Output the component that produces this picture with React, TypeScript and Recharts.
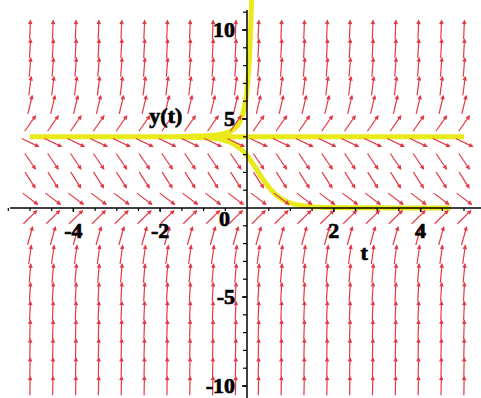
import React from "react";
import {
  ComposedChart,
  XAxis,
  YAxis,
  Line,
  Scatter,
  ReferenceLine,
  ReferenceDot,
} from "recharts";

// direction field grid (20 x 20)
const tColumns = [
  -5, -4.474, -3.947, -3.421, -2.895, -2.368, -1.842, -1.316, -0.789, -0.263,
  0.263, 0.789, 1.316, 1.842, 2.368, 2.895, 3.421, 3.947, 4.474, 5,
];
const yRows = [
  -10, -8.947, -7.895, -6.842, -5.789, -4.737, -3.684, -2.632, -1.579, -0.526,
  0.526, 1.579, 2.632, 3.684, 4.737, 5.789, 6.842, 7.895, 8.947, 10,
];
// dy/dt along each row, y(y-4)
const rowSlopes = [
  140, 115.8, 93.9, 74.2, 56.7, 41.4, 28.3, 17.5, 8.8, 2.38,
  -1.83, -3.82, -3.6, -1.16, 3.49, 10.36, 19.45, 30.75, 44.26, 60,
];

// solution curves
const equilibriumCurve = [
  { t: -5, y: 4 },
  { t: 5, y: 4 },
];
const upperCurve = [
  { t: -1.5, y: 4.02 },
  { t: -0.8, y: 4.08 },
  { t: -0.5, y: 4.2 },
  { t: -0.32, y: 4.4 },
  { t: -0.2, y: 4.7 },
  { t: -0.12, y: 5.1 },
  { t: -0.05, y: 5.8 },
  { t: 0, y: 6.6 },
  { t: 0.04, y: 7.8 },
  { t: 0.07, y: 9.2 },
  { t: 0.09, y: 10.5 },
  { t: 0.11, y: 11.8 },
];
const lowerCurve = [
  { t: -1.5, y: 3.99 },
  { t: -1, y: 3.95 },
  { t: -0.6, y: 3.85 },
  { t: -0.3, y: 3.6 },
  { t: 0, y: 2.95 },
  { t: 0.2, y: 2.25 },
  { t: 0.4, y: 1.5 },
  { t: 0.6, y: 0.9 },
  { t: 0.8, y: 0.5 },
  { t: 1, y: 0.28 },
  { t: 1.3, y: 0.12 },
  { t: 1.7, y: 0.04 },
  { t: 2.5, y: 0.01 },
  { t: 4.7, y: 0 },
];

const xTickLabels = ["-4", "-2", "2", "4"];
const xTickValues = [-4, -2, 2, 4];
const yTickLabels = ["10", "5", "-5", "-10"];
const yTickValues = [10, 5, -5, -10];
const xMinorTicks = [
  -5.5, -5, -4.5, -4, -3.5, -3, -2.5, -2, -1.5, -1, -0.5, 0.5, 1, 1.5, 2, 2.5,
  3, 3.5, 4, 4.5, 5,
];
const yMinorTicks = [
  -10, -9, -8, -7, -6, -5, -4, -3, -2, -1, 1, 2, 3, 4, 5, 6, 7, 8, 9, 10, 11,
];

const fieldData = tColumns.flatMap((t) =>
  yRows.map((y, j) => ({ t, y, slope: rowSlopes[j] }))
);
const xTickData = xTickValues.map((t, i) => ({ t, y: 0, label: xTickLabels[i] }));
const yTickData = yTickValues.map((y, i) => ({ t: 0, y, label: yTickLabels[i] }));
const xMinorData = xMinorTicks.map((t) => ({ t, y: 0 }));
const yMinorData = yMinorTicks.map((y) => ({ t: 0, y }));

const W = 481;
const H = 398;
const PX_T = 43.4;
const PX_Y = 17.8;
const X0 = 247;
const Y0 = 208;
const xDomain = [-X0 / PX_T, (W - X0) / PX_T];
const yDomain = [(Y0 - H) / PX_Y, Y0 / PX_Y];

const RED = "#e43a44";
const YELLOW = "#eaea1a";
const FONT = "'Liberation Serif', 'DejaVu Serif', serif";

const labelStyle = {
  fontFamily: FONT,
  fontWeight: "bold" as const,
  fontSize: 22,
  fill: "#000",
  stroke: "#000",
  strokeWidth: 0.7,
};

function FieldArrow(props: any) {
  const { cx, cy, payload } = props;
  const ang = Math.atan((payload.slope * PX_Y) / PX_T);
  const half = 9.2;
  const dx = Math.cos(ang) * half;
  const dy = -Math.sin(ang) * half;
  const x1 = cx - dx;
  const y1 = cy - dy;
  const x2 = cx + dx;
  const y2 = cy + dy;
  const dir = Math.atan2(y2 - y1, x2 - x1);
  const hl = 3;
  const a = [x2 - hl * Math.cos(dir - 0.45), y2 - hl * Math.sin(dir - 0.45)];
  const b = [x2 - hl * Math.cos(dir + 0.45), y2 - hl * Math.sin(dir + 0.45)];
  return (
    <g stroke={RED} strokeWidth={1.2}>
      <line x1={x1} y1={y1} x2={x2} y2={y2} />
      <polygon points={`${a[0]},${a[1]} ${x2},${y2} ${b[0]},${b[1]}`} fill={RED} />
    </g>
  );
}

function XTick(props: any) {
  const { cx, cy, payload } = props;
  return (
    <g>
      <line x1={cx} y1={cy} x2={cx} y2={cy + 4} stroke="#000" strokeWidth={1.5} />
      <text x={cx} y={cy + 30} textAnchor="middle" {...labelStyle}>
        {payload.label}
      </text>
    </g>
  );
}

function YTick(props: any) {
  const { cx, cy, payload } = props;
  return (
    <g>
      <line x1={cx - 5} y1={cy} x2={cx} y2={cy} stroke="#000" strokeWidth={1.5} />
      <text x={cx - 12} y={cy + 7} textAnchor="end" {...labelStyle}>
        {payload.label}
      </text>
    </g>
  );
}

function XMinor(props: any) {
  const { cx, cy } = props;
  return <line x1={cx} y1={cy} x2={cx} y2={cy + 3} stroke="#000" strokeWidth={1.2} />;
}

function YMinor(props: any) {
  const { cx, cy } = props;
  return <line x1={cx - 4} y1={cy} x2={cx} y2={cy} stroke="#000" strokeWidth={1.2} />;
}

export default function App() {
  return (
    <div style={{ position: "absolute", left: 0, top: 0, width: W, height: H, background: "#fff" }}>
      <ComposedChart width={W} height={H} margin={{ top: 0, right: 0, bottom: 0, left: 0 }}>
        <XAxis dataKey="t" type="number" domain={xDomain} hide allowDataOverflow />
        <YAxis dataKey="y" type="number" domain={yDomain} hide allowDataOverflow />
        <Scatter data={fieldData} dataKey="y" shape={FieldArrow} isAnimationActive={false} />
        <Line
          data={equilibriumCurve}
          dataKey="y"
          stroke={YELLOW}
          strokeWidth={5}
          dot={false}
          isAnimationActive={false}
        />
        <Line
          data={upperCurve}
          dataKey="y"
          stroke={YELLOW}
          strokeWidth={5}
          dot={false}
          type="monotone"
          isAnimationActive={false}
        />
        <Line
          data={lowerCurve}
          dataKey="y"
          stroke={YELLOW}
          strokeWidth={5}
          dot={false}
          type="monotone"
          isAnimationActive={false}
        />
        <ReferenceLine
          segment={[
            { x: -5.46, y: 0 },
            { x: xDomain[1], y: 0 },
          ]}
          stroke="#000"
          strokeWidth={1.5}
        />
        <ReferenceLine
          segment={[
            { x: 0, y: yDomain[0] },
            { x: 0, y: 11.12 },
          ]}
          stroke="#000"
          strokeWidth={1.5}
        />
        <Scatter data={xMinorData} dataKey="y" shape={XMinor} isAnimationActive={false} />
        <Scatter data={yMinorData} dataKey="y" shape={YMinor} isAnimationActive={false} />
        <Scatter data={xTickData} dataKey="y" shape={XTick} isAnimationActive={false} />
        <Scatter data={yTickData} dataKey="y" shape={YTick} isAnimationActive={false} />
        <ReferenceDot
          x={0}
          y={0}
          r={0}
          shape={(p: any) => (
            <text x={p.cx - 17} y={p.cy + 18} textAnchor="end" {...labelStyle}>
              0
            </text>
          )}
        />
        <ReferenceDot
          x={-1.87}
          y={5.17}
          r={0}
          shape={(p: any) => (
            <text x={p.cx} y={p.cy + 7} textAnchor="middle" {...labelStyle}>
              y(t)
            </text>
          )}
        />
        <ReferenceDot
          x={2.7}
          y={-2.5}
          r={0}
          shape={(p: any) => (
            <text x={p.cx} y={p.cy + 7} textAnchor="middle" {...labelStyle}>
              t
            </text>
          )}
        />
      </ComposedChart>
    </div>
  );
}
